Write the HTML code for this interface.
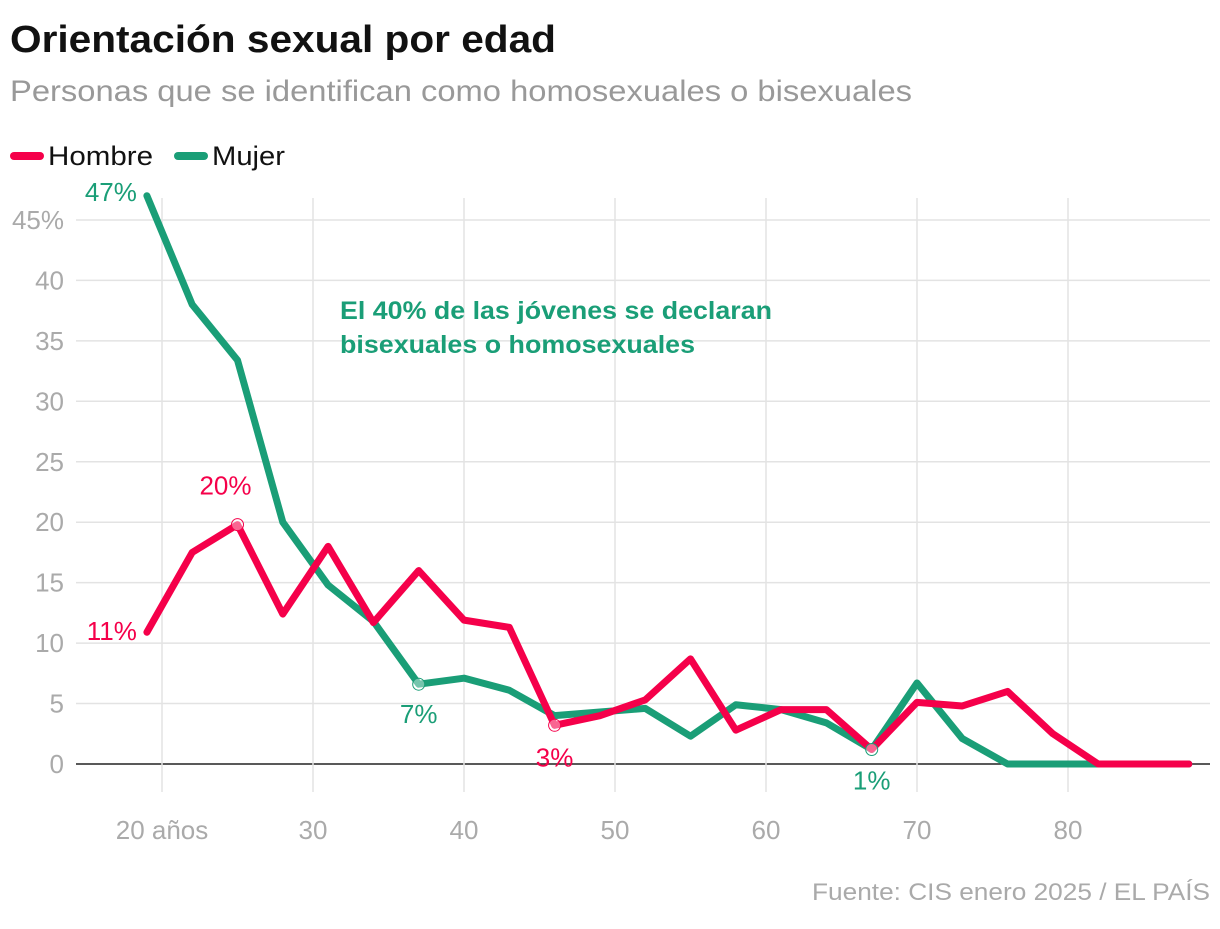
<!DOCTYPE html>
<html><head><meta charset="utf-8"><style>
body{margin:0;background:#fff;width:1220px;height:924px;overflow:hidden;font-family:"Liberation Sans",sans-serif}
</style></head><body>
<svg id="c" width="1220" height="924" font-family="Liberation Sans, sans-serif">
<text x="10" y="52" font-size="38" font-weight="bold" fill="#111" textLength="546" lengthAdjust="spacingAndGlyphs">Orientación sexual por edad</text>
<text x="10" y="101" font-size="30" fill="#999" textLength="902" lengthAdjust="spacingAndGlyphs">Personas que se identifican como homosexuales o bisexuales</text>
<g>
<line x1="14" y1="156" x2="40" y2="156" stroke="#f5004a" stroke-width="8" stroke-linecap="round"/>
<text x="48" y="165" font-size="27" fill="#111" textLength="105" lengthAdjust="spacingAndGlyphs">Hombre</text>
<line x1="178" y1="156" x2="204" y2="156" stroke="#1a9e77" stroke-width="8" stroke-linecap="round"/>
<text x="212" y="165" font-size="27" fill="#111" textLength="73" lengthAdjust="spacingAndGlyphs">Mujer</text>
</g>
<g id="grid"></g><g id="marks"></g>
<text x="340" y="319" font-size="25" font-weight="bold" fill="#1a9e77" textLength="432" lengthAdjust="spacingAndGlyphs">El 40% de las jóvenes se declaran</text>
<text x="340" y="353" font-size="25" font-weight="bold" fill="#1a9e77" textLength="355" lengthAdjust="spacingAndGlyphs">bisexuales o homosexuales</text>
<text x="1210" y="900" font-size="24" fill="#aaa" text-anchor="end" textLength="398" lengthAdjust="spacingAndGlyphs">Fuente: CIS enero 2025 / EL PAÍS</text>
</svg>
<script>
const ages=[19,22,25,28,31,34,37,40,43,46,49,52,55,58,61,64,67,70,73,76,79,82,85,88];
const hombre=[10.9,17.5,19.8,12.4,18.0,11.7,16.0,11.9,11.3,3.2,4.0,5.3,8.7,2.8,4.5,4.5,1.2,5.1,4.8,6.0,2.5,0,0,0];
const mujer=[47,38,33.4,20,14.8,11.8,6.6,7.1,6.1,4.0,4.3,4.6,2.3,4.9,4.5,3.4,1.2,6.7,2.1,0,0,0,0,0];
const yTicks=[0,5,10,15,20,25,30,35,40,45];
const yLabels=["0","5","10","15","20","25","30","35","40","45%"];
const xTicks=[20,30,40,50,60,70,80];
const xLabels=["20 años","30","40","50","60","70","80"];
const X=a=>162+(a-20)*15.1, Y=v=>764-v*12.09;
const NS="http://www.w3.org/2000/svg";
function mk(p,t,at){const e=document.createElementNS(NS,t);for(const k in at)e.setAttribute(k,at[k]);p.appendChild(e);return e;}
const g=document.getElementById('grid'), m=document.getElementById('marks');
yTicks.forEach((v,i)=>{
 const l=mk(g,'line',{x1:76,x2:1210,y1:Y(v),y2:Y(v),stroke:v===0?'#222':'#e3e3e3','stroke-width':1.5});
 
 
 const t=mk(g,'text',{x:64,y:Y(v)+9,'font-size':26,fill:'#aaa','text-anchor':'end'});t.textContent=yLabels[i];
 
 
});
xTicks.forEach((a,i)=>{
 const l=mk(g,'line',{x1:X(a),x2:X(a),y1:198,y2:792,stroke:'#e3e3e3','stroke-width':1.5});
 
 
 const t=mk(g,'text',{x:X(a),y:839,'font-size':26,fill:'#aaa','text-anchor':'middle'});t.textContent=xLabels[i];
 
 
});
function line(vals,col,name){
 const p=mk(m,'polyline',{points:vals.map((v,i)=>X(ages[i])+','+Y(v)).join(' '),fill:'none',stroke:col,'stroke-width':7,'stroke-linejoin':'round','stroke-linecap':'round'});
 
 
}
line(mujer,'#1a9e77','line-mujer');
line(hombre,'#f5004a','line-hombre');
function lab(i,vals,col,dx,dy,anchor,txt,circ){
 if(circ){const c=mk(m,'circle',{cx:X(ages[i]),cy:Y(vals[i]),r:6,fill:'#fff','fill-opacity':0.4,stroke:col,'stroke-width':1});
 
 }
 const t=mk(m,'text',{x:X(ages[i])+dx,y:Y(vals[i])+dy,'font-size':26,fill:col,'text-anchor':anchor});t.textContent=txt;
 
 
}
lab(0,mujer,'#1a9e77',-10,5,'end',Math.round(mujer[0])+'%',false);
lab(0,hombre,'#f5004a',-10,8,'end',Math.round(hombre[0])+'%',false);
lab(2,hombre,'#f5004a',-12,-30,'middle',Math.round(hombre[2])+'%',true);
lab(6,mujer,'#1a9e77',0,39,'middle',Math.round(mujer[6])+'%',true);
lab(9,hombre,'#f5004a',0,41,'middle',Math.round(hombre[9])+'%',true);
lab(16,mujer,'#1a9e77',0,40,'middle',Math.round(mujer[16])+'%',true);
</script>
</body></html>
